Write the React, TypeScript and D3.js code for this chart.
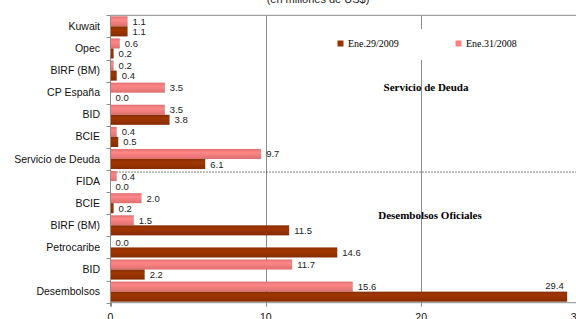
import React, { useEffect, useRef } from 'react';
import * as d3 from 'd3';

const categories = [
  'Kuwait', 'Opec', 'BIRF (BM)', 'CP España', 'BID', 'BCIE', 'Servicio de Deuda',
  'FIDA', 'BCIE', 'BIRF (BM)', 'Petrocaribe', 'BID', 'Desembolsos',
];
const ene2008 = [1.1, 0.6, 0.2, 3.5, 3.5, 0.4, 9.7, 0.4, 2.0, 1.5, 0.0, 11.7, 15.6];
const ene2009 = [1.1, 0.2, 0.4, 0.0, 3.8, 0.5, 6.1, 0.0, 0.2, 11.5, 14.6, 2.2, 29.4];
const xTicks = [0, 10, 20, 30];
const seriesNames = ['Ene.29/2009', 'Ene.31/2008'];

const W = 576;
const H = 319;

const App = () => {
  const svgRef = useRef<SVGSVGElement>(null);

  useEffect(() => {
    const svg = d3.select(svgRef.current);
    svg.selectAll('*').remove();

    const left = 110.5;
    const top = 15.3;
    const bottom = 302.7;
    const gridColor = '#8c8c8c';

    const x = d3.scaleLinear().domain([0, 30]).range([left, 576.5]);
    const y = d3.scaleBand<number>()
      .domain(categories.map((_, i) => i))
      .range([top, bottom])
      .paddingInner(0.09)
      .paddingOuter(0.045);
    const sub = d3.scaleBand<string>().domain(['a', 'b']).range([0, y.bandwidth()]).padding(0);

    const defs = svg.append('defs');
    const grad = (id: string, c: string) => {
      const g = defs.append('linearGradient').attr('id', id)
        .attr('x1', 0).attr('y1', 0).attr('x2', 0).attr('y2', 1);
      const base = d3.color(c)!;
      g.append('stop').attr('offset', '0%').attr('stop-color', base.darker(0.35).formatHex());
      g.append('stop').attr('offset', '35%').attr('stop-color', base.brighter(0.15).formatHex());
      g.append('stop').attr('offset', '100%').attr('stop-color', base.darker(0.4).formatHex());
    };
    grad('gDark', '#993300');
    grad('gPink', '#ff8080');

    // title
    svg.append('text')
      .attr('x', 318).attr('y', 3)
      .attr('text-anchor', 'middle')
      .style('font-family', 'Arial, "Liberation Sans", sans-serif')
      .style('font-size', '11px')
      .style('fill', '#222')
      .text('(en millones de US$)');

    // frame top + gridlines
    svg.append('line').attr('x1', left).attr('x2', W).attr('y1', top).attr('y2', top)
      .attr('stroke', gridColor);
    svg.selectAll('.grid').data(xTicks.slice(1)).enter().append('line')
      .attr('x1', d => Math.round(x(d)) + 0.5).attr('x2', d => Math.round(x(d)) + 0.5)
      .attr('y1', top).attr('y2', bottom)
      .attr('stroke', gridColor);

    // separator dotted line
    const step = y.step();
    const sepY = top + 7 * step + 2;
    svg.append('line').attr('x1', left).attr('x2', W).attr('y1', sepY).attr('y2', sepY)
      .attr('stroke', '#000').attr('stroke-dasharray', '1,2');

    // legend box
    svg.append('rect').attr('x', 322).attr('y', 29).attr('width', 215).attr('height', 31)
      .attr('fill', '#fff');
    const legendItems = [
      { name: seriesNames[0], color: '#993300', x: 337.5 },
      { name: seriesNames[1], color: '#ff8080', x: 455.5 },
    ];
    const lg = svg.selectAll('.lg').data(legendItems).enter().append('g');
    lg.append('rect').attr('x', d => d.x).attr('y', 40.5).attr('width', 6).attr('height', 6)
      .attr('fill', d => d.color);
    lg.append('text').attr('x', d => d.x + 10.5).attr('y', 47)
      .style('font-family', '"Liberation Serif", "Times New Roman", serif')
      .style('font-size', '10px')
      .style('fill', '#000')
      .text(d => d.name);

    // section labels
    const sections = [
      { text: 'Servicio de Deuda', x: 426, y: 91 },
      { text: 'Desembolsos Oficiales', x: 430, y: 219 },
    ];
    svg.selectAll('.sec').data(sections).enter().append('text')
      .attr('x', d => d.x).attr('y', d => d.y)
      .attr('text-anchor', 'middle')
      .style('font-family', '"Liberation Serif", "Times New Roman", serif')
      .style('font-size', '11px')
      .style('font-weight', 'bold')
      .style('fill', '#000')
      .text(d => d.text);

    // bars
    const rows = categories.map((c, i) => ({ i, c, v08: ene2008[i], v09: ene2009[i] }));
    const bars = rows.flatMap(r => [
      { i: r.i, k: 'a', v: r.v08, fill: 'url(#gPink)' },
      { i: r.i, k: 'b', v: r.v09, fill: 'url(#gDark)' },
    ]);
    svg.selectAll('.bar').data(bars).enter().append('rect')
      .attr('x', left)
      .attr('y', d => y(d.i)! + sub(d.k)!)
      .attr('width', d => x(d.v) - left)
      .attr('height', sub.bandwidth())
      .attr('fill', d => d.fill);

    // value labels (those that would not fit go above the bar end)
    const tooLong = (v: number) => x(v) + 30 > W;
    svg.selectAll('.val').data(bars).enter().append('text')
      .attr('x', d => (tooLong(d.v) ? x(d.v) - 3.5 : x(d.v) + 5))
      .attr('y', d => (tooLong(d.v)
        ? y(d.i)! + sub(d.k)! - 3
        : y(d.i)! + sub(d.k)! + sub.bandwidth() / 2 + 3.5))
      .attr('text-anchor', d => (tooLong(d.v) ? 'end' : 'start'))
      .style('font-family', 'Arial, "Liberation Sans", sans-serif')
      .style('font-size', '9.5px')
      .style('fill', '#222')
      .text(d => d.v.toFixed(1));

    // y axis
    svg.append('line').attr('x1', left).attr('x2', left).attr('y1', top).attr('y2', bottom + 4)
      .attr('stroke', gridColor);
    svg.selectAll('.ytick').data(d3.range(categories.length + 1)).enter().append('line')
      .attr('x1', left - 4).attr('x2', left)
      .attr('y1', d => Math.round(top + d * step) + 0.5)
      .attr('y2', d => Math.round(top + d * step) + 0.5)
      .attr('stroke', gridColor);
    svg.selectAll('.ylab').data(rows).enter().append('text')
      .attr('x', 100)
      .attr('y', d => y(d.i)! + y.bandwidth() / 2 + 3.5)
      .attr('text-anchor', 'end')
      .style('font-family', 'Arial, "Liberation Sans", sans-serif')
      .style('font-size', '10.5px')
      .style('fill', '#111')
      .text(d => d.c);

    // x axis
    svg.append('line').attr('x1', left).attr('x2', W).attr('y1', bottom).attr('y2', bottom)
      .attr('stroke', gridColor);
    svg.selectAll('.xtick').data(xTicks).enter().append('line')
      .attr('x1', d => Math.round(x(d)) + 0.5).attr('x2', d => Math.round(x(d)) + 0.5)
      .attr('y1', bottom).attr('y2', bottom + 4)
      .attr('stroke', gridColor);
    svg.selectAll('.xlab').data(xTicks).enter().append('text')
      .attr('x', d => x(d)).attr('y', 321)
      .attr('text-anchor', 'middle')
      .style('font-family', 'Arial, "Liberation Sans", sans-serif')
      .style('font-size', '10.5px')
      .style('fill', '#111')
      .text(d => d);
  }, []);

  return (
    <svg
      ref={svgRef}
      width={W}
      height={H}
      style={{ position: 'fixed', top: 0, left: 0, background: '#fff' }}
    />
  );
};

export default App;
